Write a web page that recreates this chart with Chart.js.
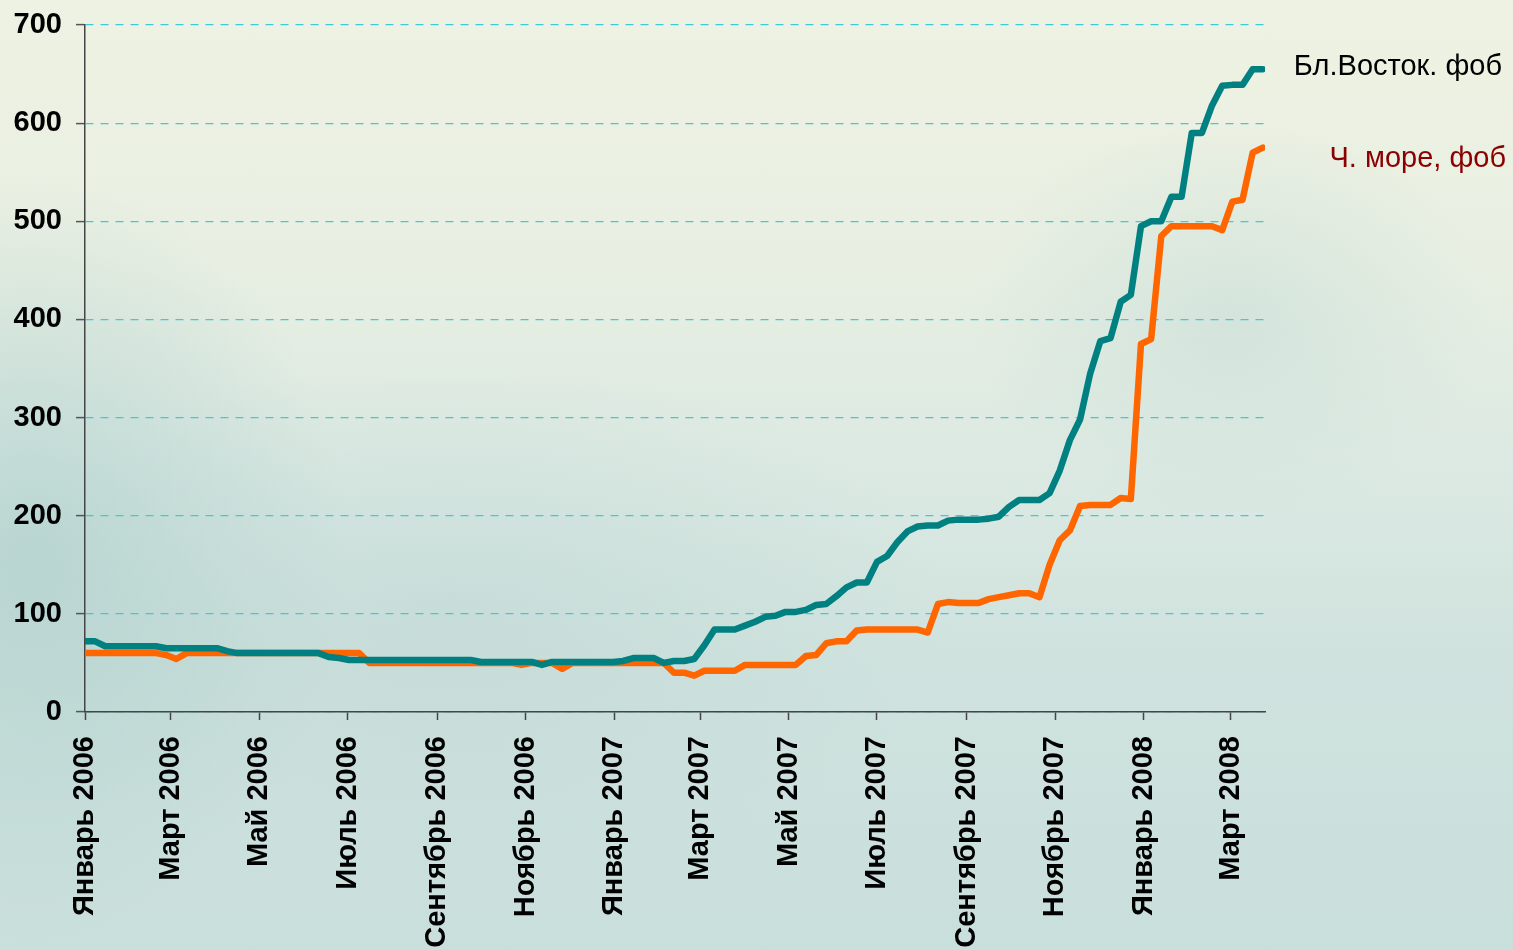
<!DOCTYPE html>
<html>
<head>
<meta charset="utf-8">
<script src="https://cdn.jsdelivr.net/npm/chart.js@4"></script>
<style>
  html, body { margin:0; padding:0; }
  body {
    width:1513px; height:950px; overflow:hidden;
    background:
      radial-gradient(ellipse 320px 380px at 30px 560px, rgba(175,208,205,0.75), rgba(175,208,205,0) 100%),
      radial-gradient(ellipse 260px 200px at 1230px 320px, rgba(200,222,216,0.6), rgba(200,222,216,0) 100%),
      radial-gradient(ellipse 500px 260px at 450px 620px, rgba(190,215,212,0.55), rgba(190,215,212,0) 100%),
      linear-gradient(180deg, #eef2e3 0%, #e8efe2 28%, #dbe9e2 50%, #cfe2de 70%, #c9dfdc 100%);
  }
  #wrap { position:absolute; left:0; top:0; width:1513px; height:950px; }
</style>
</head>
<body>
<div id="wrap"><canvas id="c"></canvas></div>
<script>
// ---- data ----
const startDate = '2006-01-01';           // first weekly observation
const tickDates = ['2006-01-01','2006-03-01','2006-05-01','2006-07-01','2006-09-01','2006-11-01',
                   '2007-01-01','2007-03-01','2007-05-01','2007-07-01','2007-09-01','2007-11-01',
                   '2008-01-01','2008-03-01'];
const tickLabels = ['Январь 2006','Март 2006','Май 2006','Июль 2006','Сентябрь 2006','Ноябрь 2006',
                    'Январь 2007','Март 2007','Май 2007','Июль 2007','Сентябрь 2007','Ноябрь 2007',
                    'Январь 2008','Март 2008'];
const seriesNames = ['Бл.Восток. фоб', 'Ч. море, фоб'];
// weekly values
const farEast = [72,72,67,67,67,67,67,67,65,65,65,65,65,65,62,60,60,60,60,60,60,60,60,60,56,55,53,53,53,53,
  53,53,53,53,53,53,53,53,53,51,51,51,51,51,51,48,51,51,51,51,51,51,51,52,55,55,55,50,52,52,
  54,68,84,84,84,88,92,97,98,102,102,104,109,110,118,127,132,132,153,159,173,184,189,190,190,195,196,196,196,197,
  199,209,216,216,216,223,246,277,298,345,378,381,418,425,495,500,500,525,525,590,590,618,638,639,639,655,655];
const blackSea = [60,60,60,60,60,60,60,60,58,54,60,60,60,60,60,60,60,60,60,60,60,60,60,60,60,60,60,60,50,50,
  50,50,50,50,50,50,50,50,50,50,50,50,50,48,50,50,50,44,50,50,50,50,50,50,50,50,50,50,40,40,
  37,42,42,42,42,48,48,48,48,48,48,57,58,70,72,72,83,84,84,84,84,84,84,81,110,112,111,111,111,115,
  117,119,121,121,117,150,175,185,210,211,211,211,218,217,375,380,485,495,495,495,495,495,491,520,522,570,575];

// ---- helpers ----
const DAY = 86400000;
const dayOf = s => (Date.parse(s) - Date.parse(startDate)) / DAY;
const tickValues = tickDates.map(dayOf);
const weekX = farEast.map((_, i) => i * 7);
const pts = arr => arr.map((v, i) => ({ x: weekX[i], y: v }));

const endLabels = {
  id: 'endLabels',
  afterDraw(chart) {
    const ctx = chart.ctx;
    ctx.save();
    ctx.font = '29px "Liberation Sans", Arial, sans-serif';
    ctx.textAlign = 'right';
    ctx.textBaseline = 'alphabetic';
    ctx.fillStyle = '#000000';
    ctx.fillText(seriesNames[0], 1502, 75);
    ctx.fillStyle = '#8b0000';
    ctx.fillText(seriesNames[1], 1506, 167);
    ctx.restore();
  }
};

const FONT = '"Liberation Sans", Arial, sans-serif';

new Chart(document.getElementById('c'), {
  type: 'line',
  data: {
    datasets: [
      { label: seriesNames[0], data: pts(farEast), borderColor: '#008080', borderWidth: 6.5,
        pointRadius: 0, tension: 0, borderJoinStyle: 'round', borderCapStyle: 'round' },
      { label: seriesNames[1], data: pts(blackSea), borderColor: '#ff6600', borderWidth: 6.5,
        pointRadius: 0, tension: 0, borderJoinStyle: 'round', borderCapStyle: 'round' }
    ]
  },
  options: {
    responsive: true,
    maintainAspectRatio: false,
    devicePixelRatio: 1,
    animation: false,
    layout: { padding: { top: 25, right: 248, left: 0, bottom: 0 } },
    plugins: { legend: { display: false }, tooltip: { enabled: false } },
    scales: {
      x: {
        type: 'linear',
        min: 0, max: 813.5,
        afterBuildTicks: s => { s.ticks = tickValues.map(v => ({ value: v })); },
        afterFit: s => { s.height = 238; s.paddingLeft = 0; s.paddingRight = 0; },
        border: { color: '#454545', width: 1.5 },
        grid: { drawOnChartArea: false, tickLength: 8, tickColor: '#454545', tickWidth: 1.5 },
        ticks: {
          autoSkip: false, minRotation: 90, maxRotation: 90, padding: 16,
          color: '#000',
          font: { family: FONT, size: 29, weight: 'bold' },
          callback: v => { const k = tickValues.indexOf(v); return k >= 0 ? tickLabels[k] : ''; }
        }
      },
      y: {
        min: 0, max: 700,
        afterFit: s => { s.width = 85; s.paddingTop = 0; s.paddingBottom = 0; },
        border: { color: '#454545', width: 1.5, dash: [8, 7] },
        grid: { color: '#3fcbd3', lineWidth: 1.2, tickLength: 9,
                tickColor: '#555555', tickWidth: 1.5, tickBorderDash: [0, 0] },
        ticks: {
          stepSize: 100, padding: 14, color: '#000',
          font: { family: FONT, size: 29, weight: 'bold' }
        }
      }
    }
  },
  plugins: [endLabels]
});
</script>
</body>
</html>
